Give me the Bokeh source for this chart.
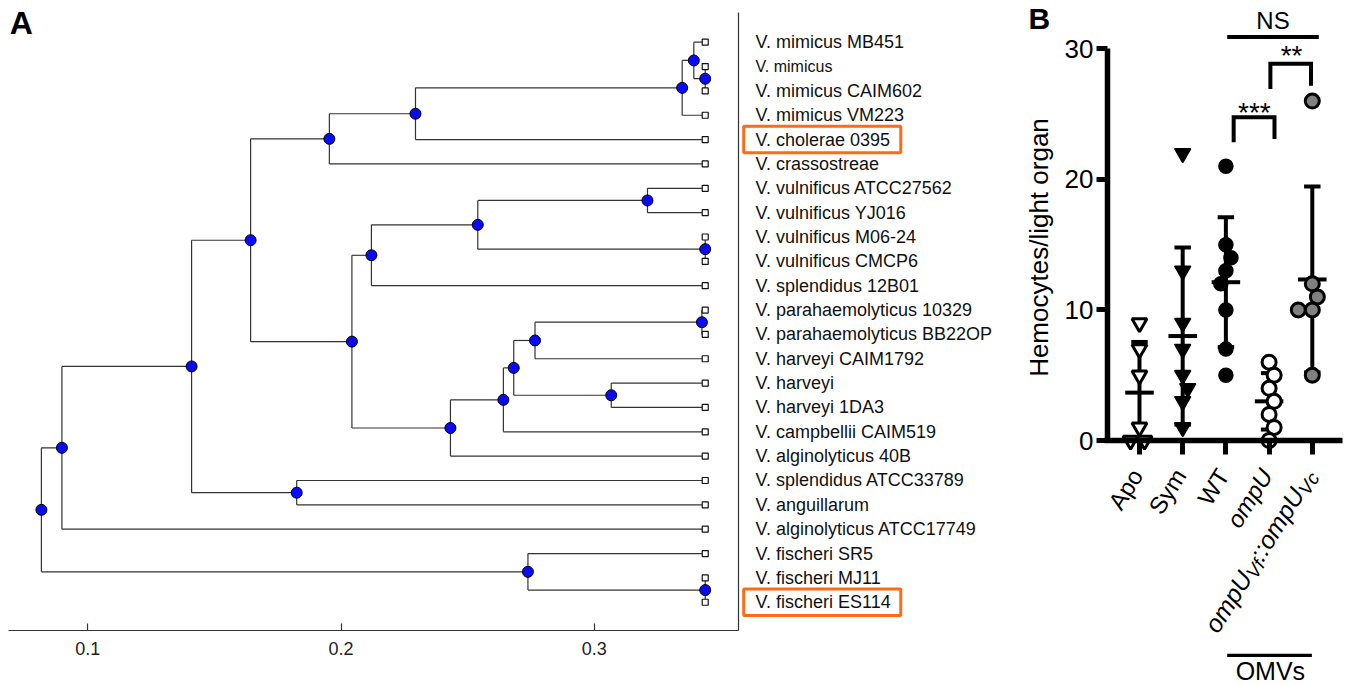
import numpy as np
from bokeh.plotting import figure
from bokeh.models import Range1d, LinearAxis, FixedTicker, ColumnDataSource
from bokeh.layouts import row
from bokeh.embed import file_html
from bokeh.resources import INLINE
from bokeh.core.properties import value, field

FONT = "Liberation Sans"

# ---------------- Panel A data (phylogenetic tree) ----------------
leaf_names = [
    "V. mimicus MB451", "V. mimicus", "V. mimicus CAIM602", "V. mimicus VM223",
    "V. cholerae 0395", "V. crassostreae", "V. vulnificus ATCC27562",
    "V. vulnificus YJ016", "V. vulnificus M06-24", "V. vulnificus CMCP6",
    "V. splendidus 12B01", "V. parahaemolyticus 10329", "V. parahaemolyticus BB22OP",
    "V. harveyi CAIM1792", "V. harveyi", "V. harveyi 1DA3", "V. campbellii CAIM519",
    "V. alginolyticus 40B", "V. splendidus ATCC33789", "V. anguillarum",
    "V. alginolyticus ATCC17749", "V. fischeri SR5", "V. fischeri MJ11",
    "V. fischeri ES114",
]
highlighted = ["V. cholerae 0395", "V. fischeri ES114"]
leaf_dist = 0.3438

node_names = ["root", "n_a", "n_b", "n_sa", "n_c", "n_d", "n_e", "n_f", "n_g", "n_mm",
              "n_h", "n_i", "n_j", "n_k", "n_vv", "n_l", "n_m", "n_n", "n_o", "n_pp",
              "n_hv", "n_fis", "n_fm"]
node_dist = [0.0817, 0.0898, 0.1410, 0.1825, 0.1643, 0.1954, 0.2294, 0.3347, 0.3393, 0.3438,
             0.2043, 0.2120, 0.2540, 0.3210, 0.3438, 0.2432, 0.2641, 0.2682, 0.2766, 0.3425,
             0.3067, 0.2738, 0.3438]
node_children = [
    ["n_a", "n_fis"],
    ["n_b", "V. alginolyticus ATCC17749"],
    ["n_c", "n_sa"],
    ["V. splendidus ATCC33789", "V. anguillarum"],
    ["n_d", "n_h"],
    ["n_e", "V. crassostreae"],
    ["n_f", "V. cholerae 0395"],
    ["n_g", "V. mimicus VM223"],
    ["V. mimicus MB451", "n_mm"],
    ["V. mimicus", "V. mimicus CAIM602"],
    ["n_i", "n_l"],
    ["n_j", "V. splendidus 12B01"],
    ["n_k", "n_vv"],
    ["V. vulnificus ATCC27562", "V. vulnificus YJ016"],
    ["V. vulnificus M06-24", "V. vulnificus CMCP6"],
    ["n_m", "V. alginolyticus 40B"],
    ["n_n", "V. campbellii CAIM519"],
    ["n_o", "n_hv"],
    ["n_pp", "V. harveyi CAIM1792"],
    ["V. parahaemolyticus 10329", "V. parahaemolyticus BB22OP"],
    ["V. harveyi", "V. harveyi 1DA3"],
    ["V. fischeri SR5", "n_fm"],
    ["V. fischeri MJ11", "V. fischeri ES114"],
]
tree_ticks = [0.1, 0.2, 0.3]

# ---------------- Panel B data ----------------
groups = ["Apo", "Sym", "WT", "ompU", "ompU_Vf::ompU_Vc"]
apo = [9, 7, 5, 1, 0, 0]
sym = [22, 13, 9, 7, 5, 4, 3, 1]
wt = [21, 15, 14, 13, 12, 10, 7, 5]
ompu = [6, 5, 4, 3, 2, 1, 0]
ompu_vc = [26, 12, 11, 10, 10, 5]
b_ticks = [0, 10, 20, 30]
comparisons = [("***", 2, 3), ("**", 3, 4), ("NS", 2, 4)]

# =================== Panel A ===================
WA, HA = 1015, 684
pA = figure(width=WA, height=HA, x_range=Range1d(0.06555, 0.46631), y_range=Range1d(26.378, -1.7125),
            output_backend="svg", toolbar_location=None, x_axis_type=None, y_axis_type=None,
            min_border=0)
pA.outline_line_color = None

leaf_index = {n: i for i, n in enumerate(leaf_names)}
dist = dict(zip(node_names, node_dist))
children = dict(zip(node_names, node_children))
ypos = {}


def lay(n):
    if n in leaf_index:
        ypos[n] = float(leaf_index[n])
        return ypos[n]
    ys = [lay(c) for c in children[n]]
    ypos[n] = sum(ys) / len(ys)
    return ypos[n]


lay("root")


def xd(n):
    return dist[n] if n in dist else leaf_dist


x0s, y0s, x1s, y1s = [], [], [], []
for n in node_names:
    cs = children[n]
    cy = [ypos[c] for c in cs]
    x0s.append(dist[n]); y0s.append(min(cy)); x1s.append(dist[n]); y1s.append(max(cy))
    for c in cs:
        x0s.append(dist[n]); y0s.append(ypos[c]); x1s.append(xd(c)); y1s.append(ypos[c])

pA.segment(x0=x0s, y0=y0s, x1=x1s, y1=y1s, line_color="#333333", line_width=1.2)

pA.scatter(x=[leaf_dist] * len(leaf_names), y=list(range(len(leaf_names))), marker="square",
           size=6, fill_color="white", line_color="#111111", line_width=1.2)
pA.scatter(x=node_dist, y=[ypos[n] for n in node_names], marker="circle", size=11,
           fill_color="#0a0af5", line_color="black", line_width=1)

lab_src = ColumnDataSource(dict(
    x=[0.3637] * len(leaf_names), y=list(range(len(leaf_names))), text=leaf_names,
    size=["16px" if n == "V. mimicus" else "18px" for n in leaf_names]))
pA.text(x="x", y="y", text="text", source=lab_src, text_font=value(FONT),
        text_font_size=field("size"), text_baseline="middle", text_align="left",
        text_color="#111111")

for name in highlighted:
    i = leaf_index[name]
    pA.rect(x=[0.3900], y=[i], width=0.0620, height=1.09, fill_color=None,
            line_color="#FF6A13", line_width=3)

pA.text(x=[0.0692], y=[-0.80], text=["A"], text_font=value(FONT), text_font_style="bold",
        text_font_size="32px", text_baseline="middle", text_color="black")

axA = LinearAxis(fixed_location=24.16, bounds=(0.0687, 0.3569), ticker=FixedTicker(ticks=tree_ticks),
                 axis_line_color="#333333", axis_line_width=1.2,
                 major_tick_in=7, major_tick_out=0, major_tick_line_color="#333333",
                 major_tick_line_width=1.2, minor_tick_line_color=None,
                 major_label_text_font=FONT, major_label_text_font_size="18px",
                 major_label_text_color="#222222", major_label_standoff=12)
pA.add_layout(axA, "below")
axR = LinearAxis(fixed_location=0.3569, bounds=(-1.22, 24.16), ticker=FixedTicker(ticks=[]),
                 axis_line_color="#333333", axis_line_width=1.2, major_tick_line_color=None,
                 minor_tick_line_color=None, major_label_text_color=None)
pA.add_layout(axR, "right")

# =================== Panel B ===================
WB, HB = 333, 684
bx0, bx1, by0, by1 = -2.870, 4.838, -18.687, 33.70
pB = figure(width=WB, height=HB, x_range=Range1d(bx0, bx1), y_range=Range1d(by0, by1),
            output_backend="svg", toolbar_location=None, x_axis_type=None, y_axis_type=None,
            min_border=0)
pB.outline_line_color = None
sx = WB / (bx1 - bx0)
sy = HB / (by1 - by0)


def swarm(vals, diam=14.0):
    vals = np.asarray(vals, dtype=float)
    order = np.argsort(-vals, kind="stable")
    placed = []
    offs = np.zeros(len(vals))
    side = 1
    for k in order:
        yp = vals[k] * sy
        cands = [0.0]
        for px, py in placed:
            dy = abs(py - yp)
            if dy < diam:
                dx = np.sqrt(diam ** 2 - dy ** 2)
                cands += [px + dx, px - dx]
        cands = sorted(set(cands), key=lambda c: (round(abs(c), 6), -side * np.sign(c)))
        for c in cands:
            if all((c - px) ** 2 + (yp - py) ** 2 >= diam ** 2 - 1e-6 for px, py in placed):
                offs[k] = c
                break
        if offs[k] != 0:
            side = -int(np.sign(offs[k]))
        placed.append((offs[k], yp))
    return offs / sx


all_vals = [apo, sym, wt, ompu, ompu_vc]
styles = [
    dict(marker="inverted_triangle", size=15, fill_color="white", line_color="black", line_width=3),
    dict(marker="inverted_triangle", size=16, fill_color="black", line_color="black", line_width=1.5),
    dict(marker="circle", size=14, fill_color="black", line_color="black", line_width=1.5),
    dict(marker="circle", size=14, fill_color="white", line_color="black", line_width=3),
    dict(marker="circle", size=14, fill_color="#808080", line_color="black", line_width=3),
]

# error bars (mean +/- SD)
for i, vals in enumerate(all_vals):
    m = float(np.mean(vals))
    s = float(np.std(vals, ddof=1))
    lo = max(m - s, 0.0)
    hi = m + s
    pB.segment(x0=[i], y0=[lo], x1=[i], y1=[hi], line_color="black", line_width=4)
    pB.segment(x0=[i - 0.19], y0=[hi], x1=[i + 0.19], y1=[hi], line_color="black", line_width=4)
    if m - s > 0:
        pB.segment(x0=[i - 0.19], y0=[lo], x1=[i + 0.19], y1=[lo], line_color="black", line_width=4)
    pB.segment(x0=[i - 0.33], y0=[m], x1=[i + 0.33], y1=[m], line_color="black", line_width=4)

for i, (vals, st) in enumerate(zip(all_vals, styles)):
    offs = swarm(vals)
    pB.scatter(x=list(i + offs), y=vals, **st)

# significance brackets
br = {
    "***": dict(xs=[2.18, 2.18, 3.125, 3.125], ys=[22.85, 24.75, 24.75, 23.1], tx=2.66, ty=25.14,
                fs="28px", base="alphabetic"),
    "**": dict(xs=[3.03, 3.03, 3.97, 3.97], ys=[26.93, 28.85, 28.85, 27.18], tx=3.52, ty=29.46,
               fs="28px", base="alphabetic"),
    "NS": dict(xs=[2.03, 4.15], ys=[30.9, 30.9], tx=3.09, ty=32.18, fs="24px", base="middle"),
}
for lab, a, b in comparisons:
    d = br[lab]
    pB.line(x=d["xs"], y=d["ys"], line_color="black", line_width=4, line_join="miter")
    pB.text(x=[d["tx"]], y=[d["ty"]], text=[lab], text_font=value(FONT), text_font_size=d["fs"],
            text_align="center", text_baseline=d["base"], text_color="black")

# axes
axY = LinearAxis(fixed_location=-0.741, bounds=(0, 30), ticker=FixedTicker(ticks=b_ticks),
                 axis_line_color="black", axis_line_width=5.5, major_tick_out=11, major_tick_in=0,
                 major_tick_line_width=5, major_tick_line_color="black", minor_tick_line_color=None,
                 major_label_text_font=FONT, major_label_text_font_size="26px",
                 major_label_text_color="black", major_label_standoff=3)
pB.add_layout(axY, "left")
axX = LinearAxis(fixed_location=0, bounds=(-0.805, 4.70), ticker=FixedTicker(ticks=list(range(5))),
                 axis_line_color="black", axis_line_width=5.5, major_tick_out=14, major_tick_in=0,
                 major_tick_line_width=5, major_tick_line_color="black", minor_tick_line_color=None,
                 major_label_text_color=None)
pB.add_layout(axX, "below")

# rotated category labels
theta = np.deg2rad(58)
ux, uy = np.cos(theta) / sx, np.sin(theta) / sy
dnx, dny = np.sin(theta) / sx, -np.cos(theta) / sy
adv = {"o": .556, "m": .833, "p": .556, "U": .722, "V": .667, "f": .278, "c": .5, ":": .278}


def tw(s, fs):
    return sum(adv.get(ch, .556) for ch in s) * fs


label_pieces = [
    [("Apo", 24, "normal", 0)],
    [("Sym", 24, "normal", 0)],
    [("WT", 24, "normal", 0)],
    [("ompU", 24, "italic", 0)],
    [("ompU", 25, "italic", 0), ("Vf", 19, "italic", 6), ("::", 25, "italic", 0),
     ("ompU", 25, "italic", 0), ("Vc", 19, "italic", 6)],
]
for i, pieces in enumerate(label_pieces):
    mx, my = i - 0.06, -2.34
    after = 0.0
    for txt, fs, sty, sub in reversed(pieces):
        px = mx - ux * after + dnx * sub
        py = my - uy * after + dny * sub
        pB.text(x=[px], y=[py], text=[txt], angle=theta, text_font=value(FONT),
                text_font_size=f"{fs}px", text_font_style=sty, text_align="right",
                text_baseline="middle", text_color="black")
        after += tw(txt, fs)

# OMVs grouping line
pB.line(x=[2.03, 3.99], y=[-16.46, -16.46], line_color="black", line_width=3.3)
pB.text(x=[3.03], y=[-17.62], text=["OMVs"], text_font=value(FONT), text_font_size="25px",
        text_align="center", text_baseline="middle", text_color="black")

# y-axis title and panel letter
pB.text(x=[-2.315], y=[14.78], text=["Hemocytes/light organ"], angle=np.pi / 2,
        text_font=value(FONT), text_font_size="26px", text_align="center",
        text_baseline="middle", text_color="black")
pB.text(x=[-2.57], y=[32.34], text=["B"], text_font=value(FONT), text_font_style="bold",
        text_font_size="30px", text_baseline="middle", text_color="black")

layout = row(pA, pB)
open("out.html", "w").write(file_html(layout, INLINE))
